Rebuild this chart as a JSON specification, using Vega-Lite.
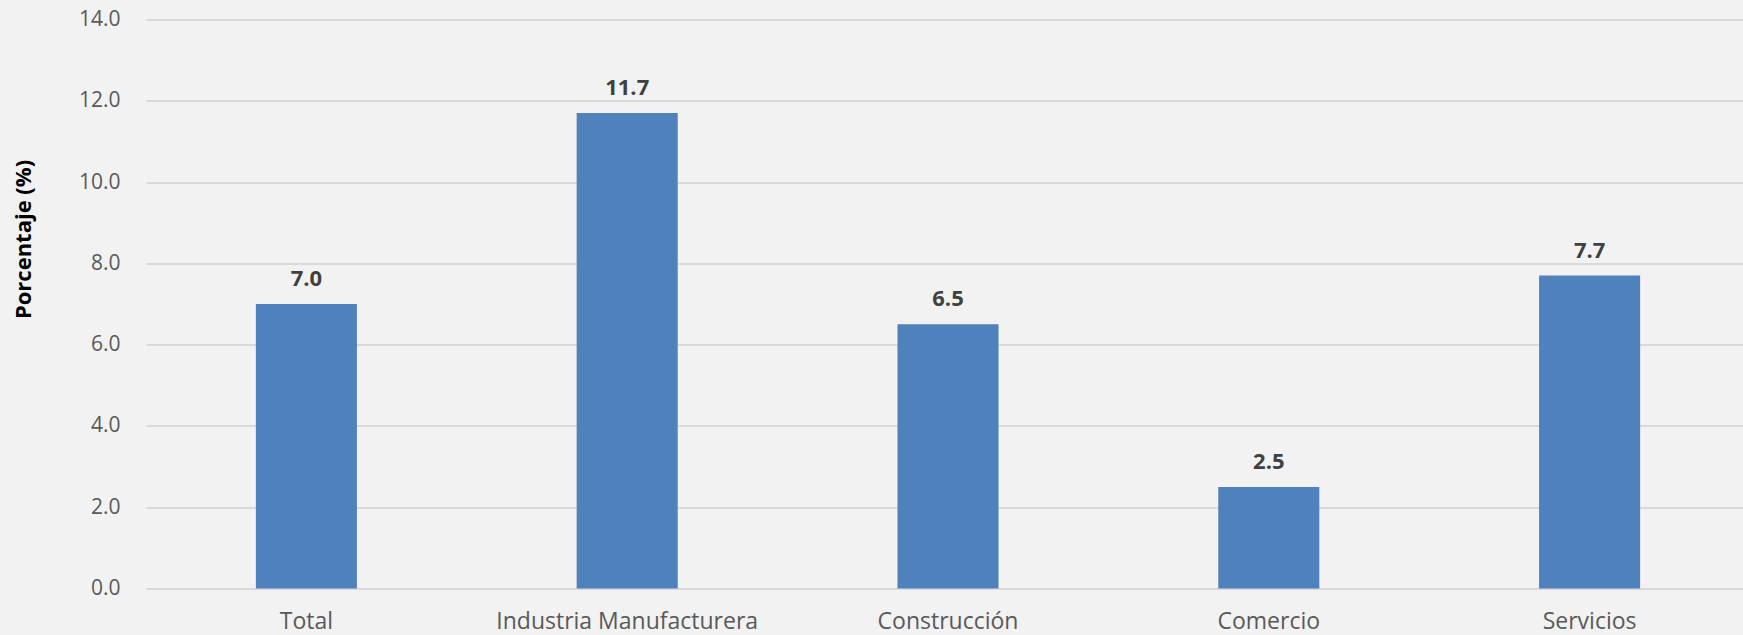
{
  "$schema": "https://vega.github.io/schema/vega-lite/v6.json",
  "autosize": {"type": "none"},
  "width": 1604,
  "height": 569,
  "padding": {"left": 146, "top": 19.5, "right": 0, "bottom": 46.5},
  "background": "#f2f2f2",
  "config": {
    "view": {"stroke": null},
    "font": "Open Sans"
  },
  "data": {
    "values": [
      {"sector": "Total", "valor": 7.0},
      {"sector": "Industria Manufacturera", "valor": 11.7},
      {"sector": "Construcción", "valor": 6.5},
      {"sector": "Comercio", "valor": 2.5},
      {"sector": "Servicios", "valor": 7.7}
    ]
  },
  "encoding": {
    "x": {
      "field": "sector",
      "type": "nominal",
      "sort": null,
      "scale": {"paddingInner": 0, "paddingOuter": 0},
      "axis": {
        "title": null,
        "labelAngle": 0,
        "labelFont": "Open Sans",
        "labelFontSize": 23,
        "labelColor": "#595959",
        "labelBaseline": "alphabetic",
        "labelPadding": 40,
        "labelLimit": 500,
        "ticks": false,
        "domain": false,
        "grid": false
      }
    },
    "y": {
      "field": "valor",
      "type": "quantitative",
      "scale": {"domain": [0, 14], "nice": false},
      "axis": {
        "values": [0, 2, 4, 6, 8, 10, 12, 14],
        "format": ".1f",
        "title": "Porcentaje  (%)",
        "titleFont": "Open Sans",
        "titleFontSize": 22,
        "titleFontWeight": "bold",
        "titleColor": "#000000",
        "titleAngle": 270,
        "titleAlign": "center",
        "titleBaseline": "middle",
        "titleX": -123,
        "titleY": 219.5,
        "labelFont": "Open Sans",
        "labelFontSize": 21,
        "labelColor": "#595959",
        "labelPadding": 26,
        "ticks": false,
        "domain": false,
        "grid": true,
        "gridColor": "#d9d9d9",
        "gridWidth": 2
      }
    }
  },
  "layer": [
    {
      "mark": {"type": "bar", "color": "#4f81bd", "width": {"band": 0.315}}
    },
    {
      "mark": {
        "type": "text",
        "font": "Open Sans",
        "fontSize": 22,
        "fontWeight": "bold",
        "color": "#404040",
        "baseline": "alphabetic",
        "dy": -18
      },
      "encoding": {
        "text": {"field": "valor", "type": "quantitative", "format": ".1f"}
      }
    }
  ]
}
